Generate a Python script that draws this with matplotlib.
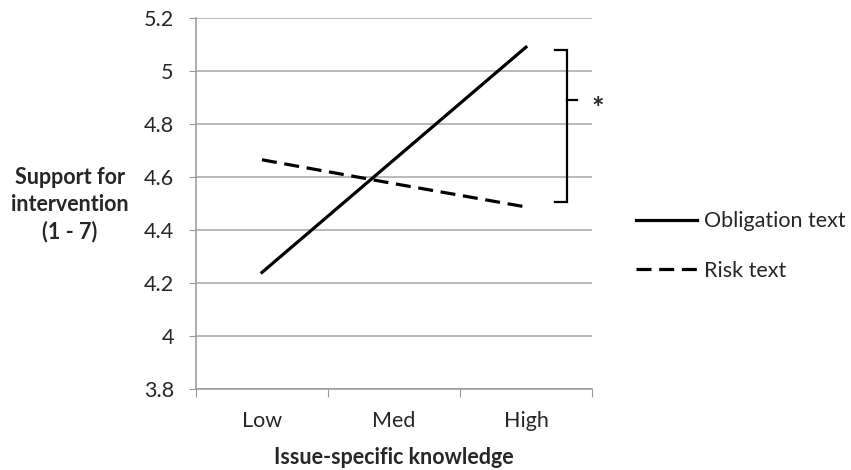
import matplotlib
matplotlib.use("Agg")
import matplotlib.pyplot as plt
from matplotlib.lines import Line2D

plt.rcParams['font.family'] = ['Lato', 'DejaVu Sans']

levels = ['Low', 'Med', 'High']
obligation = [4.24, 4.665, 5.09]
risk = [4.665, 4.575, 4.487]
yticks = [3.8, 4.0, 4.2, 4.4, 4.6, 4.8, 5.0, 5.2]
ytick_labels = ['3.8', '4', '4.2', '4.4', '4.6', '4.8', '5', '5.2']

FS = 15.5
LW = 2.3
DASH = [4.7, 2.4]
TXT = '#262626'

fig = plt.figure(figsize=(8.51, 4.70), dpi=100)
ax = fig.add_axes([0.2303, 0.1723, 0.4653, 0.7894])

xs = [0.5, 1.5, 2.5]
ax.plot(xs, obligation, color='black', lw=LW, label='Obligation text')
risk_line, = ax.plot(xs, risk, color='black', lw=LW, label='Risk text')
risk_line.set_dashes(DASH)

ax.set_xlim(0, 3)
ax.set_ylim(3.8, 5.2)
ax.set_yticks(yticks)
ax.set_yticklabels(ytick_labels, fontsize=FS, color=TXT)
ax.set_xticks([0, 1, 2, 3])
ax.set_xticklabels([])
ax.set_xticks(xs, minor=True)
ax.set_xticklabels(levels, minor=True, fontsize=FS, color=TXT)
ax.tick_params(axis='x', which='minor', length=0, pad=16)
ax.tick_params(axis='x', which='major', length=6, color='#999999', direction='out')
ax.tick_params(axis='y', length=5, color='#999999', pad=11)

ax.grid(axis='y', color='#a6a6a6', lw=1.1)
ax.set_axisbelow(True)
for s in ['top', 'right']:
    ax.spines[s].set_visible(False)
for s in ['left', 'bottom']:
    ax.spines[s].set_color('#999999')
    ax.spines[s].set_linewidth(1.1)

# bracket for significance
bx = 2.81
ax.plot([bx - 0.09, bx, bx, bx - 0.09], [5.08, 5.08, 4.506, 4.506],
        color='black', lw=1.6, clip_on=False, solid_joinstyle='miter')
ax.plot([bx, bx + 0.077], [4.89, 4.89], color='black', lw=1.6, clip_on=False)
ax.text(3.04, 4.855, '*', fontsize=21, fontweight='bold', color=TXT,
        ha='center', va='center')

ax.set_xlabel('Issue-specific knowledge', fontsize=FS, fontweight='bold',
              color=TXT, labelpad=11)
fig.text(0.082, 0.564, 'Support for\nintervention\n(1 - 7)', fontsize=FS,
         fontweight='bold', color=TXT, ha='center', va='center', linespacing=1.35)

handles = [Line2D([], [], color='black', lw=LW),
           Line2D([], [], color='black', lw=LW, dashes=DASH)]
leg = fig.legend(handles, ['Obligation text', 'Risk text'], loc='center left',
                 bbox_to_anchor=(0.7245, 0.4766), frameon=False, fontsize=FS,
                 handlelength=2.83, handletextpad=0.33, labelspacing=1.35)
for t in leg.get_texts():
    t.set_color(TXT)

fig.savefig('out.png', dpi=100)
